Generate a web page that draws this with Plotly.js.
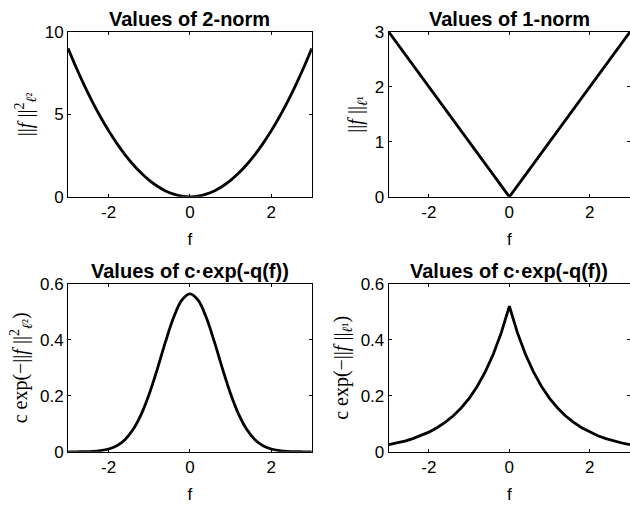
<!DOCTYPE html>
<html><head><meta charset="utf-8">
<script src="https://cdn.plot.ly/plotly-3.0.1.min.js"></script>
<style>html,body{margin:0;padding:0;background:#fff}</style>
</head><body><div id="chart" style="width:630px;height:506px"></div>
<script>
const f = [-3,-2.8,-2.6,-2.4,-2.2,-2,-1.8,-1.6,-1.4,-1.2,-1,-0.8,-0.6,-0.4,-0.2,0,0.2,0.4,0.6,0.8,1,1.2,1.4,1.6,1.8,2,2.2,2.4,2.6,2.8,3];
const norm2sq = [9,7.84,6.76,5.76,4.84,4,3.24,2.56,1.96,1.44,1,0.64,0.36,0.16,0.04,0,0.04,0.16,0.36,0.64,1,1.44,1.96,2.56,3.24,4,4.84,5.76,6.76,7.84,9];
const norm1 = [3,2.8,2.6,2.4,2.2,2,1.8,1.6,1.4,1.2,1,0.8,0.6,0.4,0.2,0,0.2,0.4,0.6,0.8,1,1.2,1.4,1.6,1.8,2,2.2,2.4,2.6,2.8,3];
const gauss = [0.0001,0.0002,0.0007,0.0018,0.0045,0.0103,0.0221,0.0436,0.0795,0.1336,0.2075,0.2974,0.3935,0.4806,0.5419,0.564,0.5419,0.4806,0.3935,0.2974,0.2075,0.1336,0.0795,0.0436,0.0221,0.0103,0.0045,0.0018,0.0007,0.0002,0.0001];
const laplace = [0.0259,0.0316,0.0386,0.0472,0.0576,0.0704,0.0860,0.1050,0.1282,0.1566,0.1913,0.2336,0.2854,0.3486,0.4257,0.52,0.4257,0.3486,0.2854,0.2336,0.1913,0.1566,0.1282,0.1050,0.0860,0.0704,0.0576,0.0472,0.0386,0.0316,0.0259];
const panelTitles = ["Values of 2-norm","Values of 1-norm","Values of c·exp(-q(f))","Values of c·exp(-q(f))"];
const yTitles = [
  "||<i>f</i> ||<sup>2</sup><sub><i>ℓ</i>²</sub>",
  "||<i>f</i> ||<sub><i>ℓ</i>¹</sub>",
  "c exp(−||<i>f</i> ||<sup>2</sup><sub><i>ℓ</i>²</sub>)",
  "c exp(−||<i>f</i> ||<sub><i>ℓ</i>¹</sub>)"
];
const xTitle = "f";
const yRanges = [[0,10],[0,3],[0,0.6],[0,0.6]];
const yTicks = [[0,5,10],[0,1,2,3],[0,0.2,0.4,0.6],[0,0.2,0.4,0.6]];
const yTickText = [["0","5","10"],["0","1","2","3"],["0","0.2","0.4","0.6"],["0","0.2","0.4","0.6"]];
const xTicks = [-2,0,2];
const xTickText = ["-2","0","2"];

const series = [norm2sq, norm1, gauss, laplace];
const shapes = ['spline','linear','spline','linear'];
const traces = series.map((ys,i)=>({
  x: f, y: ys, type:'scatter', mode:'lines',
  line:{color:'#000', width:2.8, shape:shapes[i]},
  xaxis: i===0?'x':'x'+(i+1), yaxis: i===0?'y':'y'+(i+1),
  hoverinfo:'skip', showlegend:false
}));

const xDom = [[0.108,0.495],[0.617,1.0]];
const yDom = [[0.611,0.937],[0.107,0.439]];
const font = {family:'Liberation Sans, Arial, sans-serif', size:17, color:'#000'};
const layout = {
  width:630, height:506, margin:{l:0,r:0,t:0,b:0},
  paper_bgcolor:'#fff', plot_bgcolor:'#fff', font:font, showlegend:false,
  annotations:[]
};
for(let i=0;i<4;i++){
  const xd = xDom[i%2], yd = yDom[Math.floor(i/2)];
  const xk = i===0?'xaxis':'xaxis'+(i+1), yk = i===0?'yaxis':'yaxis'+(i+1);
  const common = {showline:true, linecolor:'#000', linewidth:1, mirror:'ticks', ticks:'inside', ticklen:3, tickwidth:1, tickcolor:'#000', showgrid:false, zeroline:false, tickfont:font, automargin:false, fixedrange:true, tickmode:'array'};
  layout[xk] = Object.assign({}, common, {domain:xd, range:[-3,3], tickvals:xTicks, ticktext:xTickText, anchor: i===0?'y':'y'+(i+1), title:{text:xTitle, font:font, standoff:11}});
  layout[yk] = Object.assign({}, common, {domain:yd, range:yRanges[i], tickvals:yTicks[i], ticktext:yTickText[i], anchor: i===0?'x':'x'+(i+1), title:{text:yTitles[i], font:{family:'Liberation Serif, Times New Roman, serif', size:20, color:'#000'}, standoff:6}});
  layout.annotations.push({xref:'paper', yref:'paper', x:(xd[0]+xd[1])/2, y:yd[1], xanchor:'center', yanchor:'bottom', yshift:0, showarrow:false, text:'<b>'+panelTitles[i]+'</b>', font:{family:'Liberation Sans, Arial, sans-serif', size:20, color:'#000'}});
}
Plotly.newPlot('chart', traces, layout, {staticPlot:true, displayModeBar:false});
</script></body></html>
